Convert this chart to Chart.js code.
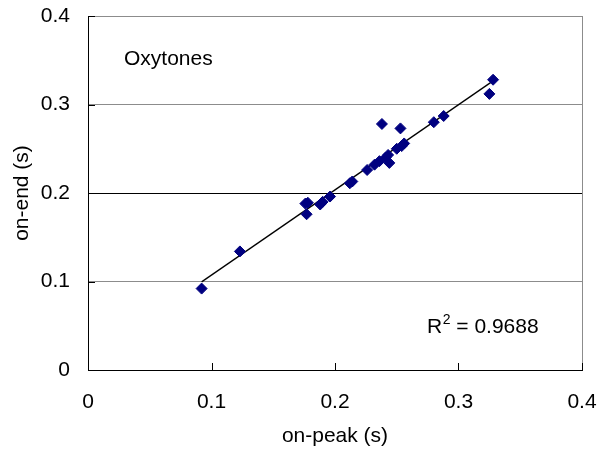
<!DOCTYPE html>
<html>
<head>
<meta charset="utf-8">
<script src="https://cdn.jsdelivr.net/npm/chart.js@4.4.0/dist/chart.umd.min.js"></script>
<style>
  html, body { margin: 0; padding: 0; background: #fff; }
  #wrap { width: 608px; height: 452px; position: relative; }
</style>
</head>
<body>
<div id="wrap"><canvas id="c" width="608" height="452"></canvas></div>
<script>
// ---- data ----
const onPeak = [0.092, 0.123, 0.176, 0.178, 0.177, 0.188, 0.190, 0.196, 0.212, 0.214,
                0.226, 0.232, 0.236, 0.238, 0.241, 0.243, 0.244, 0.250, 0.253, 0.254,
                0.256, 0.280, 0.288, 0.325, 0.328];
const onEnd  = [0.092, 0.134, 0.188, 0.189, 0.176, 0.187, 0.190, 0.196, 0.211, 0.213,
                0.226, 0.232, 0.236, 0.278, 0.240, 0.243, 0.234, 0.250, 0.273, 0.253,
                0.256, 0.280, 0.287, 0.312, 0.328];
const axisTicks = [0, 0.1, 0.2, 0.3, 0.4];
const tickLabels = ['0', '0.1', '0.2', '0.3', '0.4'];
const seriesName = 'Oxytones';
const xTitle = 'on-peak (s)';
const yTitle = 'on-end (s)';
const r2Label = '0.9688';

// ---- least-squares trend line from the data ----
const n = onPeak.length;
const mx = onPeak.reduce((a, b) => a + b, 0) / n;
const my = onEnd.reduce((a, b) => a + b, 0) / n;
let sxy = 0, sxx = 0;
for (let i = 0; i < n; i++) { sxy += (onPeak[i] - mx) * (onEnd[i] - my); sxx += (onPeak[i] - mx) ** 2; }
const slope = sxy / sxx, icept = my - slope * mx;
const xMin = Math.min(...onPeak), xMax = Math.max(...onPeak);
const trend = [{x: xMin, y: icept + slope * xMin}, {x: xMax, y: icept + slope * xMax}];

const pts = onPeak.map((x, i) => ({x, y: onEnd[i]}));
const FONT = '"Liberation Sans", Arial, sans-serif';
const FS = 21;

const extras = {
  id: 'extras',
  afterDraw(chart) {
    const ctx = chart.ctx;
    const xs = chart.scales.x, ys = chart.scales.y;
    const a = chart.chartArea;
    ctx.save();
    // inside tick marks
    ctx.strokeStyle = '#000';
    ctx.lineWidth = 1;
    ctx.beginPath();
    axisTicks.forEach(v => {
      if (v > 0) {
        const px = Math.round(xs.getPixelForValue(v)) + 0.5;
        ctx.moveTo(px, a.bottom); ctx.lineTo(px, a.bottom - 7);
        const py = Math.round(ys.getPixelForValue(v)) + 0.5;
        ctx.moveTo(a.left, py); ctx.lineTo(a.left + 7, py);
      }
    });
    ctx.stroke();
    // texts
    ctx.fillStyle = '#000';
    ctx.textBaseline = 'alphabetic';
    ctx.textAlign = 'left';
    ctx.font = FS + 'px ' + FONT;
    ctx.fillText(seriesName, 124, 65);
    let x0 = 427, yb = 333;
    ctx.fillText('R', x0, yb);
    x0 += ctx.measureText('R').width;
    ctx.font = '14px ' + FONT;
    ctx.fillText('2', x0 + 0.5, yb - 9);
    x0 += ctx.measureText('2').width + 0.5;
    ctx.font = FS + 'px ' + FONT;
    ctx.fillText(' = ' + r2Label, x0, yb);
    ctx.restore();
  }
};

new Chart(document.getElementById('c'), {
  type: 'scatter',
  data: {
    datasets: [
      {
        label: seriesName,
        data: pts,
        pointStyle: 'rectRot',
        pointRadius: 5.5,
        pointBackgroundColor: '#000080',
        pointBorderColor: '#000080',
        pointBorderWidth: 1,
        order: 1
      },
      {
        type: 'line',
        label: 'trend',
        data: trend,
        borderColor: '#000',
        borderWidth: 1.3,
        pointRadius: 0,
        fill: false,
        order: 2
      }
    ]
  },
  options: {
    responsive: false,
    animation: false,
    events: [],
    layout: { padding: { top: 16, right: 26, left: 0, bottom: 0 } },
    plugins: { legend: { display: false }, tooltip: { enabled: false } },
    scales: {
      x: {
        type: 'linear', min: 0, max: 0.4,
        afterFit(s) { s.height = 82; s.paddingLeft = 0; s.paddingRight = 0; },
        afterBuildTicks(s) { s.ticks = axisTicks.map(v => ({value: v})); },
        border: { display: true, color: '#000', width: 1 },
        grid: {
          drawTicks: false,
          color: c => (c.tick && c.tick.value === 0.4) ? '#8c8c8c' : 'rgba(0,0,0,0)',
          lineWidth: 1
        },
        ticks: {
          padding: 20,
          color: '#000',
          font: { family: FONT, size: FS },
          callback: (v) => tickLabels[axisTicks.indexOf(v)] ?? ''
        },
        title: {
          display: true, text: xTitle, color: '#000',
          font: { family: FONT, size: FS },
          padding: { top: 0, bottom: 3 }
        }
      },
      y: {
        type: 'linear', min: 0, max: 0.4,
        afterFit(s) { s.width = 88; s.paddingTop = 0; s.paddingBottom = 0; },
        afterBuildTicks(s) { s.ticks = axisTicks.map(v => ({value: v})); },
        border: { display: true, color: '#000', width: 1 },
        grid: {
          drawTicks: false,
          color: c => {
            const v = c.tick ? c.tick.value : null;
            if (v === 0) return 'rgba(0,0,0,0)';
            if (v === 0.2) return '#000';
            return '#8c8c8c';
          },
          lineWidth: 1
        },
        ticks: {
          padding: 18,
          color: '#000',
          font: { family: FONT, size: FS },
          callback: (v) => tickLabels[axisTicks.indexOf(v)] ?? ''
        },
        title: {
          display: true, text: yTitle, color: '#000',
          font: { family: FONT, size: FS },
          padding: { top: 10, bottom: 0 }
        }
      }
    }
  },
  plugins: [extras]
});
</script>
</body>
</html>
